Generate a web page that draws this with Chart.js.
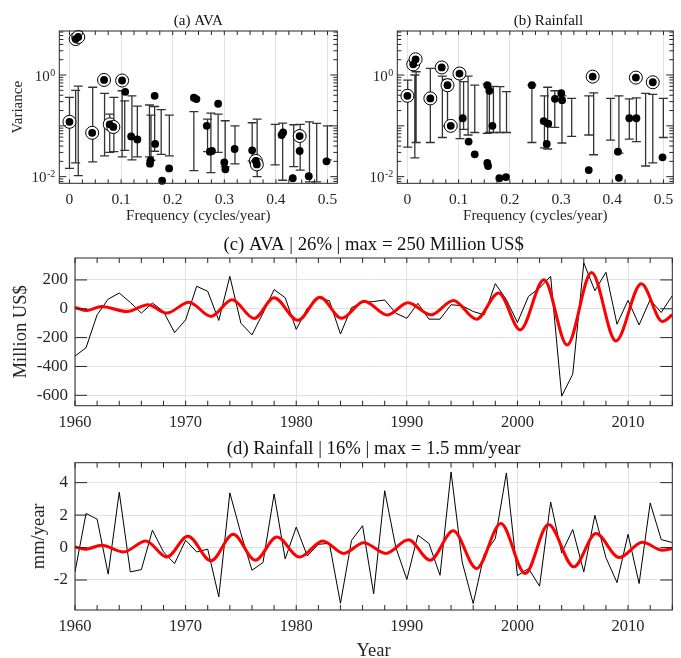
<!DOCTYPE html>
<html><head><meta charset="utf-8">
<script src="https://cdn.jsdelivr.net/npm/chart.js@4.4.1/dist/chart.umd.min.js"></script>
<style>
html,body{margin:0;padding:0;background:#fff;overflow:hidden;width:681px;height:658px;position:relative;}
canvas{position:absolute;}
</style></head><body>
<canvas id="ca" width="345" height="228" style="left:0;top:0"></canvas>
<canvas id="cb" width="336" height="228" style="left:345px;top:0"></canvas>
<canvas id="cc" width="681" height="200" style="left:0;top:228px"></canvas>
<canvas id="cd" width="681" height="240" style="left:0;top:430px"></canvas>
<script>
// ---------- tick positions / labels ----------
const freqTicks = [0, 0.1, 0.2, 0.3, 0.4, 0.5];
const freqMinorTicks = [0,0.025,0.05,0.075,0.1,0.125,0.15,0.175,0.2,0.225,0.25,0.275,0.3,0.325,0.35,0.375,0.4,0.425,0.45,0.475,0.5];
const varMajorTicks = [0.01, 0.1, 1];
const varMinorTicks = [0.008,0.009,0.02,0.03,0.04,0.05,0.06,0.07,0.08,0.09,0.2,0.3,0.4,0.5,0.6,0.7,0.8,0.9,2,3,4,5,6,7];
const varLabelTicks = [0.01, 1];
const varLabelExps = ['-2', '0'];
const yearTicks = [1960, 1970, 1980, 1990, 2000, 2010];
const yearMinorTicks = [1960,1962,1964,1966,1968,1970,1972,1974,1976,1978,1980,1982,1984,1986,1988,1990,1992,1994,1996,1998,2000,2002,2004,2006,2008,2010,2012,2014];
const avaYTicks = [-600, -400, -200, 0, 200];
const rainYTicks = [-2, 0, 2, 4];

// ---------- (a) AVA spectrum ----------
const avaDotF = [0.108,0.1195,0.1315,0.165,0.166,0.157,0.156,0.193,0.1795,0.241,0.246,0.288,0.266,0.272,0.276,0.300,0.302,0.320,0.354,0.411,0.414,0.446,0.4326,0.4636,0.498];
const avaDotV = [0.468,0.062,0.054,0.39,0.044,0.021,0.018,0.0145,0.0083,0.357,0.337,0.272,0.10,0.031,0.032,0.019,0.014,0.035,0.033,0.066,0.074,0.032,0.0093,0.0102,0.020];
const avaCircF = [0.000,0.012,0.017,0.044,0.067,0.078,0.085,0.102,0.361,0.363,0.446];
const avaCircV = [0.12,5.1,5.6,0.073,0.80,0.107,0.095,0.78,0.0204,0.0174,0.063];
const avaErrF  = [0.000,0.012,0.017,0.045,0.068,0.078,0.086,0.102,0.107,0.121,0.1315,0.155,0.158,0.165,0.1777,0.1935,0.241,0.2675,0.274,0.288,0.3017,0.3207,0.354,0.3636,0.3985,0.413,0.4345,0.447,0.465,0.479,0.4996];
const avaErrLo = [0.0145,0.0186,0.0105,0.0195,0.0257,0.030,0.031,0.0245,0.033,0.0214,0.0245,0.0245,0.021,0.0316,0.0275,0.0257,0.0132,0.031,0.012,0.030,0.0158,0.0178,0.0204,0.010,0.017,0.0085,0.0158,0.0135,0.0079,0.0079,0.0214];
const avaErrHi = [0.363,0.50,0.607,0.575,0.437,0.17,0.363,0.49,0.31,0.39,0.245,0.257,0.162,0.24,0.209,0.162,0.19,0.135,0.178,0.17,0.126,0.10,0.115,0.135,0.107,0.1135,0.105,0.107,0.12,0.112,0.10];

// ---------- (b) Rainfall spectrum ----------
const rainDotF = [0.108,0.1195,0.1315,0.156,0.160,0.166,0.156,0.1575,0.1795,0.1925,0.243,0.266,0.275,0.272,0.288,0.3004,0.302,0.354,0.411,0.4129,0.4332,0.447,0.498];
const rainDotV = [0.141,0.049,0.0275,0.63,0.49,0.10,0.0186,0.0162,0.0093,0.0098,0.63,0.124,0.11,0.044,0.34,0.44,0.32,0.0135,0.031,0.0095,0.141,0.141,0.024];
const rainCircF = [0.000,0.0114,0.016,0.0448,0.067,0.0783,0.0846,0.1017,0.3617,0.446,0.479];
const rainCircV = [0.39,1.62,2.04,0.347,1.41,0.63,0.10,1.07,0.93,0.89,0.72];
const rainErrF  = [0.0006,0.0145,0.017,0.0448,0.0683,0.0783,0.1027,0.1097,0.1185,0.1315,0.1556,0.16,0.168,0.1806,0.1935,0.243,0.2675,0.2738,0.2877,0.3017,0.3207,0.354,0.3636,0.3966,0.4129,0.4332,0.447,0.465,0.479,0.4996];
const rainErrLo = [0.038,0.0234,0.047,0.047,0.059,0.10,0.056,0.085,0.066,0.074,0.071,0.074,0.074,0.074,0.074,0.047,0.037,0.035,0.093,0.046,0.062,0.066,0.027,0.0525,0.029,0.055,0.049,0.0162,0.0186,0.059];
const rainErrHi = [0.79,1.0,1.16,1.35,0.955,0.82,0.955,0.74,0.955,0.63,0.66,0.59,0.60,0.59,0.47,0.63,0.39,0.575,0.49,0.39,0.347,0.39,0.447,0.347,0.39,0.34,0.355,0.437,0.417,0.347];

// ---------- (c), (d) time series ----------
const years = [1960,1961,1962,1963,1964,1965,1966,1967,1968,1969,1970,1971,1972,1973,1974,1975,1976,1977,1978,1979,1980,1981,1982,1983,1984,1985,1986,1987,1988,1989,1990,1991,1992,1993,1994,1995,1996,1997,1998,1999,2000,2001,2002,2003,2004,2005,2006,2007,2008,2009,2010,2011,2012,2013,2014];
const avaAnom = [-328,-270,-42,67,109,44,-30,40,-19,-165,-77,156,121,-81,225,-100,-181,-30,133,77,-143,3,73,56,-175,8,43,50,61,-31,-66,38,-72,-72,28,21,-19,-42,174,63,-95,86,144,225,-606,-453,318,125,253,-107,58,-112,63,-26,91];
const avaRcYears  = [1960,1961.1,1962.4,1964.7,1966.6,1968.3,1970.3,1972.3,1974.2,1976.2,1978.0,1980.15,1982.15,1984.1,1986.15,1988.25,1990.1,1992.2,1994.2,1996.3,1998.3,2000.25,2002.4,2004.5,2006.7,2008.9,2011.2,2013.1,2014];
const avaRcValues = [9,-12,16,-19,28,-30,46,-53,63,-67,76,-80,80,-66,53,-43,41,-42,58,-72,109,-146,202,-251,252,-223,174,-88,-42];
const rainAnom = [-1.5,2.1,1.75,-1.64,3.41,-1.5,-1.36,1.07,-0.27,-0.99,0.45,-0.27,-0.1,-3.04,3.37,0.86,-1.4,-0.92,3.3,-0.7,1.26,-0.52,0.2,0.26,-3.44,0.44,1.35,-2.85,3.5,0.02,-1.97,0.76,0.25,-1.71,4.66,-0.88,-3.45,-0.41,0.55,4.6,-1.73,-1.29,-2.38,2.81,-0.33,1.11,-1.5,1.99,-0.62,-2.16,0.82,-2.22,2.75,0.49,0.31];
const rainRcYears  = [1960,1960.9,1962.4,1964.4,1966.4,1968.3,1970.2,1972.3,1974.3,1976.3,1978.25,1980.3,1982.4,1984.3,1986.1,1988.1,1990.15,1992.1,1994.2,1996.3,1998.5,2000.7,2002.8,2005.1,2007.1,2009.2,2011.3,2013.1,2014];
const rainRcValues = [0.04,-0.1,0.14,-0.27,0.41,-0.58,0.70,-0.82,0.82,-0.78,0.65,-0.59,0.41,-0.36,0.30,-0.36,0.48,-0.78,1.03,-1.29,1.48,-1.60,1.42,-1.19,0.86,-0.62,0.33,-0.16,-0.06];

// ---------- styling ----------
const SERIF = "'Liberation Serif', 'Times New Roman', serif";
Chart.defaults.font.family = SERIF;
Chart.defaults.color = '#262626';
const AXIS = '#262626';
const GRID = '#e1e1e1';

function frame(cfg) {
  return {
    id: 'frame',
    afterDraw(chart) {
      const {ctx, chartArea: a, scales} = chart;
      const xs = scales.x, ys = scales.y;
      ctx.save();
      ctx.strokeStyle = AXIS;
      ctx.lineWidth = 1;
      ctx.beginPath();
      cfg.xTicks.forEach(v => {
        const p = xs.getPixelForValue(v);
        ctx.moveTo(p, a.top); ctx.lineTo(p, a.top + cfg.xLen);
        ctx.moveTo(p, a.bottom); ctx.lineTo(p, a.bottom - cfg.xLen);
      });
      cfg.yTicks.forEach(v => {
        const p = ys.getPixelForValue(v);
        ctx.moveTo(a.left, p); ctx.lineTo(a.left + cfg.yLen, p);
        ctx.moveTo(a.right, p); ctx.lineTo(a.right - cfg.yLen, p);
      });
      (cfg.yMinor || []).forEach(v => {
        const p = ys.getPixelForValue(v);
        ctx.moveTo(a.left, p); ctx.lineTo(a.left + cfg.yMinorLen, p);
        ctx.moveTo(a.right, p); ctx.lineTo(a.right - cfg.yMinorLen, p);
      });
      ctx.stroke();
      ctx.strokeRect(a.left, a.top, a.right - a.left, a.bottom - a.top);
      if (cfg.sup) {
        ctx.fillStyle = AXIS;
        ctx.textBaseline = 'alphabetic';
        ctx.textAlign = 'right';
        cfg.sup.values.forEach((v, i) => {
          const p = ys.getPixelForValue(v);
          const e = cfg.sup.exps[i];
          ctx.font = "10px " + SERIF;
          ctx.fillText(e, a.left - 4, p + 0.5);
          const w = ctx.measureText(e).width;
          ctx.font = "15px " + SERIF;
          ctx.fillText('10', a.left - 4.5 - w, p + 5.5);
        });
      }
      ctx.restore();
    }
  };
}

function pts(xs, ys) { return xs.map((x, i) => ({x: x, y: ys[i]})); }

function spectrumDatasets(dotF, dotV, circF, circV, errF, errLo, errHi) {
  const bars = [], caps = [];
  errF.forEach((f, i) => {
    bars.push({x: f, y: errLo[i]}, {x: f, y: errHi[i]}, {x: f, y: null});
    caps.push({x: f, y: errLo[i]}, {x: f, y: errHi[i]});
  });
  const circ = pts(circF, circV);
  return [
    {data: pts(dotF, dotV).concat(circ), pointRadius: 3.9, backgroundColor: '#000', borderWidth: 0, order: 0, clip: false},
    {data: circ, pointRadius: 6.5, backgroundColor: '#fff', borderColor: '#000', borderWidth: 1, order: 1, clip: false},
    {data: caps, pointStyle: 'line', pointRadius: 4.5, borderColor: '#333', borderWidth: 1.3, order: 2},
    {data: bars, showLine: true, spanGaps: false, pointRadius: 0, borderColor: '#333', borderWidth: 1.3, order: 3}
  ];
}

function spectrumChart(id, title, dsets, yAxisWidth, yTitle, padRight) {
  return new Chart(document.getElementById(id), {
    type: 'scatter',
    data: {datasets: dsets},
    options: {
      responsive: false, animation: false, events: [],
      layout: {padding: {left: 0, right: padRight, top: 0, bottom: 0}},
      plugins: {
        legend: {display: false}, tooltip: {enabled: false},
        title: {display: true, text: title, fullSize: false, color: '#111',
                font: {size: 15, weight: 'normal', lineHeight: 1.2}, padding: {top: 12.5, bottom: 0.5}}
      },
      scales: {
        x: {type: 'linear', min: -0.0197, max: 0.519,
            afterBuildTicks: s => { s.ticks = freqTicks.map(v => ({value: v})); },
            afterFit: s => { s.height = 44.7; },
            grid: {color: GRID, drawTicks: false}, border: {display: false},
            ticks: {font: {size: 15.5}, padding: 7.5, maxRotation: 0, autoSkip: false, callback: v => String(v)},
            title: {display: true, text: 'Frequency (cycles/year)', font: {size: 15}, padding: {top: 0, bottom: 3}}},
        y: {type: 'logarithmic', min: 0.0074, max: 7.35,
            afterFit: s => { s.width = yAxisWidth; },
            grid: {display: false}, border: {display: false},
            ticks: {display: false},
            title: {display: !!yTitle, text: yTitle || '', font: {size: 15}, padding: {top: 9, bottom: 0}}}
      }
    },
    plugins: [frame({xTicks: freqMinorTicks, xLen: 4, yTicks: varMajorTicks, yLen: 7, yMinor: varMinorTicks, yMinorLen: 4,
                     sup: {values: varLabelTicks, exps: varLabelExps}})]
  });
}

spectrumChart('ca', '(a) AVA',
  spectrumDatasets(avaDotF, avaDotV, avaCircF, avaCircV, avaErrF, avaErrLo, avaErrHi), 59.3, 'Variance', 1.7);
spectrumChart('cb', '       (b) Rainfall',
  spectrumDatasets(rainDotF, rainDotV, rainCircF, rainCircV, rainErrF, rainErrLo, rainErrHi), 52.3, null, 0.3);

function seriesChart(id, title, line, rc, yMin, yMax, yTicks, yTitle, yTitlePad, titlePad, xHeight, xTitle) {
  return new Chart(document.getElementById(id), {
    type: 'scatter',
    data: {datasets: [
      {data: rc, showLine: true, borderColor: '#ff0000', borderWidth: 3, pointRadius: 0, cubicInterpolationMode: 'monotone', order: 0},
      {data: line, showLine: true, borderColor: '#000', borderWidth: 1, pointRadius: 0, order: 1}
    ]},
    options: {
      responsive: false, animation: false, events: [],
      layout: {padding: {left: 0, right: 8.7, top: 0, bottom: 0}},
      plugins: {
        legend: {display: false}, tooltip: {enabled: false},
        title: {display: true, text: title, fullSize: false, color: '#111',
                font: {size: 18.7, weight: 'normal', lineHeight: 1.2}, padding: titlePad}
      },
      scales: {
        x: {type: 'linear', min: 1960, max: 2014,
            afterBuildTicks: s => { s.ticks = yearTicks.map(v => ({value: v})); },
            afterFit: s => { s.height = xHeight; },
            grid: {color: GRID, drawTicks: false}, border: {display: false},
            ticks: {font: {size: 16.5}, padding: 6.8, maxRotation: 0, autoSkip: false, callback: v => String(v)},
            title: {display: !!xTitle, text: xTitle || '', font: {size: 18.5}, padding: {top: 0, bottom: 8}}},
        y: {type: 'linear', min: yMin, max: yMax,
            afterBuildTicks: s => { s.ticks = yTicks.map(v => ({value: v})); },
            afterFit: s => { s.width = 75; },
            grid: {color: GRID, drawTicks: false}, border: {display: false},
            ticks: {font: {size: 17}, padding: 7, callback: v => String(v)},
            title: {display: true, text: yTitle, font: {size: 18.5}, padding: {top: yTitlePad, bottom: 0}}}
      }
    },
    plugins: [frame({xTicks: yearMinorTicks, xLen: 5, yTicks: yTicks, yLen: 12})]
  });
}

seriesChart('cc', '(c) AVA | 26% | max = 250 Million US$', pts(years, avaAnom), pts(avaRcYears, avaRcValues),
  -672, 352, avaYTicks, 'Million US$', 9.7, {top: 5.8, bottom: 1.76}, 22.3, null);
seriesChart('cd', '(d) Rainfall | 16% | max = 1.5 mm/year', pts(years, rainAnom), pts(rainRcYears, rainRcValues),
  -3.85, 5.23, rainYTicks, 'mm/year', 27.9, {top: 8.3, bottom: 1.96}, 60, 'Year');
</script>
</body></html>
